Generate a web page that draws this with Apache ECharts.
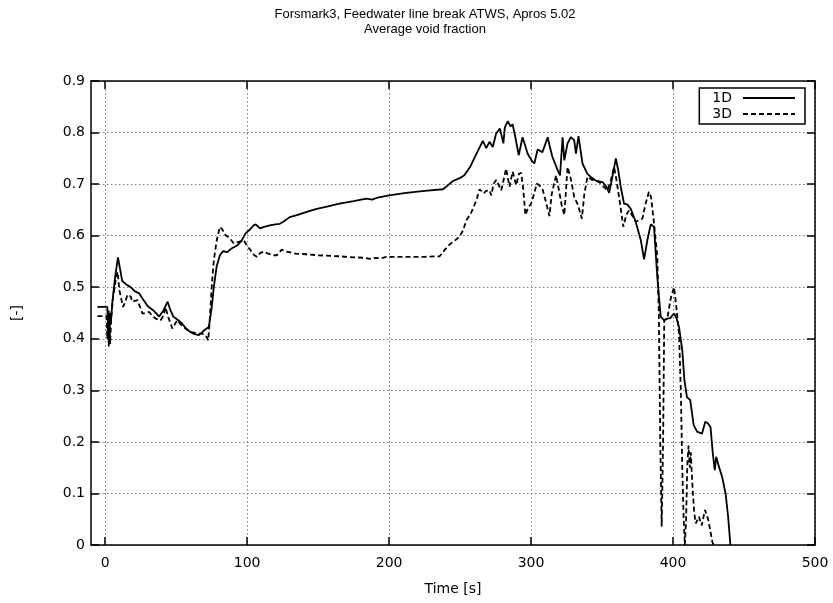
<!DOCTYPE html>
<html>
<head>
<meta charset="utf-8">
<script src="https://cdn.jsdelivr.net/npm/echarts@6/dist/echarts.min.js"></script>
<style>html,body{margin:0;padding:0;background:#fff}#c{width:833px;height:603px}</style>
</head>
<body>
<div id="c"></div>
<script>
// ---- data ----
const titleLines = ["Forsmark3, Feedwater line break ATWS, Apros 5.02", "Average void fraction"];
const seriesNames = ["1D", "3D"];
const xTicks = [0, 100, 200, 300, 400, 500];
const yTicks = [0, 0.1, 0.2, 0.3, 0.4, 0.5, 0.6, 0.7, 0.8, 0.9];

const time1D = [-5.5,1.5,2.0,2.5,3.0,3.5,4.0,5.0,7.0,9.0,10.5,12.0,15,18,21,24,27,30,34,38,41,44,46,48,51,54,57,60,63,66,68,70,73,75,76.5,78.5,80.8,83,86,89,93,96,99,102,104.5,106,109,112,116,120,123,126,130,135,142,149,157,165,175,184,188,192,200,212,225,238,241.5,245,250,253,257,261.4,266,268.4,270.7,273,275.4,278,280.5,281.5,283.6,285.5,287,289,291.3,294,297.6,300.5,302.3,304.6,308,311.7,313,315,318.7,320.4,322.2,323.4,325.7,328,330.4,331.6,333.4,336.2,339.7,342,345.6,350.3,353,355,357,359.7,361.5,363.2,365.5,368,370.2,373.7,377.3,379.6,381.9,384.3,386.6,388.9,391.3,393.6,396,398,400.7,402.5,404.2,406.5,408,409.8,412.1,414.5,416.9,420.4,422.7,424.5,426.4,428,429.4,430.4,432.3,434.6,437,438.8,440.4];
const void1D = [0.462,0.462,0.42,0.455,0.415,0.45,0.43,0.47,0.52,0.558,0.535,0.512,0.505,0.50,0.492,0.488,0.475,0.463,0.455,0.443,0.455,0.472,0.455,0.443,0.437,0.43,0.42,0.413,0.409,0.407,0.412,0.417,0.423,0.46,0.50,0.54,0.562,0.57,0.568,0.575,0.581,0.59,0.605,0.612,0.62,0.622,0.614,0.617,0.62,0.622,0.623,0.628,0.636,0.64,0.646,0.652,0.657,0.662,0.667,0.672,0.670,0.674,0.678,0.683,0.687,0.69,0.698,0.706,0.712,0.717,0.733,0.758,0.784,0.77,0.782,0.772,0.798,0.808,0.779,0.81,0.822,0.812,0.816,0.79,0.756,0.791,0.759,0.745,0.74,0.767,0.762,0.791,0.775,0.753,0.727,0.717,0.791,0.746,0.779,0.791,0.785,0.759,0.793,0.74,0.72,0.714,0.707,0.704,0.695,0.683,0.71,0.75,0.725,0.694,0.662,0.66,0.652,0.627,0.591,0.554,0.591,0.622,0.617,0.52,0.443,0.436,0.439,0.44,0.449,0.44,0.423,0.378,0.32,0.287,0.281,0.233,0.22,0.216,0.239,0.236,0.229,0.178,0.145,0.171,0.152,0.132,0.10,0.055,0];

const time3D = [-5.5,1.0,1.5,2.0,2.5,3.0,3.5,4.2,5.5,7.5,8.7,10,12.5,14,15.6,18,19,22.7,24.5,26.2,28.5,30.9,33,35.6,39.1,41,42.6,44,47.3,49,50.8,54,57.9,61,64.9,68,70.7,72.6,73.5,75,76.5,78.5,80.8,82.5,84.8,87,90.6,94,97.6,100,102.3,105,106.9,109,111.5,115,118,121,124.4,128,134,142,150,165,175,183,186.4,190,194,198,210,225,235.6,239,242.6,246,249.6,252,254.5,257.9,261.4,263.7,265,266.5,268.4,270.7,272,273.5,275.4,276.5,279,280,282.4,284.8,287,289.5,291.5,293,294.5,296,298,300,302,304,306,308,310.5,312.9,314.5,317.6,319.5,321.5,323.4,325.7,328,330.4,333,335.8,337.5,339.7,343,348,351,353.8,356,358.5,360,362,365,367,369,371.5,373.7,376,378.4,380.5,383,384.5,386.6,388.9,390,391,392,393,393.8,396,398.5,400.7,402,404.2,405.5,406.5,407.5,408.3,409.2,410,410.9,411.8,412.5,413.2,414,415,416,418.3,420.2,422.5,424.9,427.7,428.5];
const void3D = [0.444,0.444,0.40,0.44,0.385,0.43,0.39,0.44,0.48,0.515,0.53,0.494,0.462,0.47,0.485,0.482,0.472,0.475,0.462,0.449,0.45,0.452,0.445,0.439,0.436,0.445,0.461,0.445,0.42,0.428,0.436,0.425,0.417,0.413,0.41,0.41,0.407,0.397,0.43,0.50,0.552,0.59,0.617,0.612,0.601,0.597,0.585,0.588,0.591,0.58,0.572,0.562,0.559,0.566,0.569,0.565,0.562,0.562,0.573,0.569,0.565,0.564,0.562,0.56,0.558,0.557,0.555,0.557,0.556,0.559,0.559,0.559,0.56,0.572,0.583,0.59,0.598,0.61,0.63,0.645,0.668,0.69,0.693,0.682,0.687,0.688,0.678,0.7,0.708,0.711,0.688,0.70,0.73,0.695,0.724,0.698,0.72,0.722,0.69,0.64,0.655,0.662,0.68,0.701,0.697,0.691,0.665,0.638,0.68,0.717,0.69,0.66,0.64,0.733,0.71,0.675,0.66,0.633,0.68,0.714,0.708,0.704,0.695,0.688,0.705,0.733,0.71,0.675,0.617,0.64,0.649,0.638,0.627,0.63,0.633,0.66,0.685,0.675,0.624,0.559,0.45,0.2,0.036,0.2,0.436,0.44,0.48,0.50,0.47,0.41,0.3,0.15,0.05,0,0.05,0.15,0.193,0.15,0.18,0.139,0.10,0.061,0.042,0.055,0.038,0.068,0.048,0.006,0];

const xMin = -10, xMax = 500, yMin = 0, yMax = 0.9, yStep = 0.1;

// ---- chart ----
const zip = (t, v) => t.map((x, i) => [x, v[i]]);
const FONT = "Liberation Sans";
const AXFONT = "DejaVu Sans";
const gridLine = { show: true, lineStyle: { color: "#7a7a7a", width: 1, type: [1.5, 2.5] } };
const frame = { show: true, onZero: false, lineStyle: { color: "#000", width: 1.5 } };
const tick = (len) => ({ show: true, inside: true, length: len, lineStyle: { color: "#000", width: 1.5 } });

const chart = echarts.init(document.getElementById("c"), null, { renderer: "canvas" });
chart.setOption({
  animation: false,
  backgroundColor: "#fff",
  textStyle: { fontFamily: FONT },
  title: {
    text: titleLines.join("\n"),
    left: 420, top: 2, textAlign: "center",
    textStyle: { fontFamily: FONT, fontSize: 13, fontWeight: "normal", color: "#000", lineHeight: 15 }
  },
  legend: {
    data: seriesNames,
    orient: "vertical",
    right: 28, top: 88,
    align: "right",
    itemWidth: 52, itemHeight: 10, itemGap: 2,
    padding: [3, 9, 3, 13],
    borderColor: "#000", borderWidth: 1.5, borderRadius: 0,
    backgroundColor: "#fff",
    itemStyle: { opacity: 0 },
    textStyle: { fontFamily: AXFONT, fontSize: 14, color: "#000", padding: [0, 6, 0, 0] }
  },
  grid: { left: 91, right: 18, top: 81, bottom: 58, containLabel: false },
  xAxis: [
    {
      type: "value", min: xMin, max: xMax, position: "bottom",
      name: "Time [s]", nameLocation: "middle", nameGap: 37,
      nameTextStyle: { fontFamily: AXFONT, fontSize: 14, color: "#000" },
      axisLine: frame, axisTick: Object.assign(tick(8), { customValues: xTicks }),
      axisLabel: { customValues: xTicks, fontFamily: AXFONT, fontSize: 14, color: "#000", margin: 11 },
      splitLine: gridLine
    },
    {
      type: "value", min: xMin, max: xMax, position: "top",
      axisLine: frame, axisTick: Object.assign(tick(8), { customValues: xTicks }),
      axisLabel: { show: false }, splitLine: { show: false }
    }
  ],
  yAxis: [
    {
      type: "value", min: yMin, max: yMax, interval: yStep, position: "left",
      name: "[-]", nameLocation: "middle", nameGap: 67, nameRotate: 90,
      nameTextStyle: { fontFamily: AXFONT, fontSize: 14, color: "#000" },
      axisLine: frame, axisTick: tick(8),
      axisLabel: { fontFamily: AXFONT, fontSize: 14, color: "#000", margin: 6 },
      splitLine: gridLine
    },
    {
      type: "value", min: yMin, max: yMax, interval: yStep, position: "right",
      axisLine: frame, axisTick: tick(8),
      axisLabel: { show: false }, splitLine: { show: false }
    }
  ],
  series: [
    {
      name: seriesNames[0], type: "line", data: zip(time1D, void1D),
      xAxisIndex: 0, yAxisIndex: 0,
      symbol: "none", showSymbol: false, clip: true,
      lineStyle: { color: "#000", width: 1.8 }, itemStyle: { color: "#000" }, z: 3
    },
    {
      name: seriesNames[1], type: "line", data: zip(time3D, void3D),
      xAxisIndex: 0, yAxisIndex: 0,
      symbol: "none", showSymbol: false, clip: true,
      lineStyle: { color: "#000", width: 1.8, type: [5, 3] }, itemStyle: { color: "#000" }, z: 2
    }
  ]
});
</script>
</body>
</html>
